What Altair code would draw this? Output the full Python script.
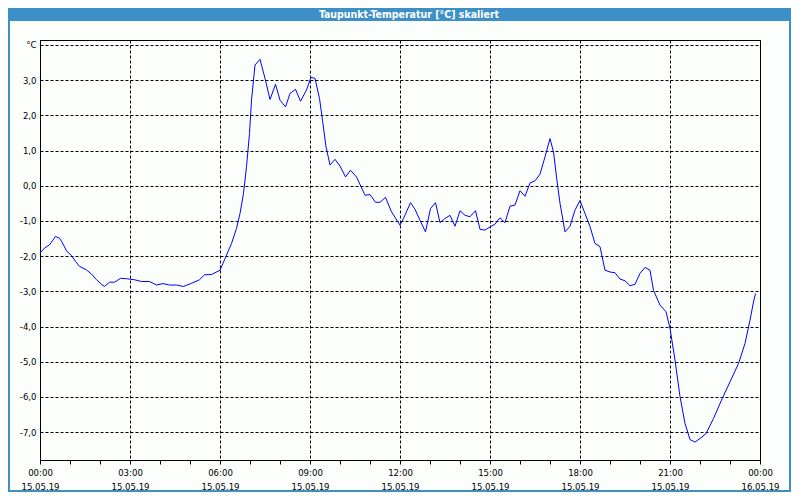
import json
import altair as alt
import pandas as pd

title_text = "Taupunkt-Temperatur [°C] skaliert"
unit_label = "°C"

# minutes after 15.05.19 00:00
minutes = [0, 9, 19, 31, 39, 44, 53, 63, 71, 79, 93, 103, 113, 123, 129, 139, 149, 161, 173, 189,
           203, 219, 233, 246, 259, 273, 287, 303, 319, 329, 343, 360, 370, 383, 393, 400, 407, 413,
           419, 423, 430, 440, 450, 460, 471, 480, 491, 500, 511, 521, 533, 542, 550, 559, 565, 572,
           580, 590, 600, 611, 621, 633, 650, 660, 671, 680, 691, 703, 720, 727, 741, 750, 760, 771,
           781, 791, 800, 810, 820, 830, 840, 850, 860, 871, 880, 890, 900, 910, 920, 930, 940, 950,
           960, 970, 980, 990, 1000, 1010, 1020, 1027, 1033, 1040, 1050, 1060, 1070, 1080, 1090,
           1100, 1110, 1120, 1130, 1140, 1150, 1160, 1170, 1180, 1190, 1200, 1210, 1220, 1227, 1240,
           1252, 1260, 1270, 1280, 1290, 1300, 1310, 1320, 1332, 1347, 1363, 1380, 1397, 1410, 1420,
           1427, 1431]
values = [-1.91, -1.77, -1.68, -1.44, -1.49, -1.60, -1.85, -1.98, -2.15, -2.29, -2.39, -2.51, -2.67,
          -2.80, -2.86, -2.74, -2.74, -2.63, -2.64, -2.67, -2.72, -2.72, -2.82, -2.78, -2.82, -2.82,
          -2.86, -2.77, -2.67, -2.53, -2.52, -2.40, -2.07, -1.64, -1.21, -0.79, -0.22, 0.54, 1.49,
          2.43, 3.43, 3.59, 3.05, 2.45, 2.88, 2.43, 2.24, 2.62, 2.74, 2.40, 2.72, 3.08, 3.05, 2.48,
          1.86, 1.11, 0.59, 0.75, 0.56, 0.25, 0.44, 0.25, -0.27, -0.25, -0.47, -0.47, -0.33, -0.74,
          -1.12, -0.93, -0.48, -0.67, -0.98, -1.31, -0.65, -0.48, -1.05, -0.93, -0.84, -1.15, -0.71,
          -0.84, -0.88, -0.71, -1.24, -1.26, -1.17, -1.09, -0.91, -1.05, -0.58, -0.55, -0.14, -0.30,
          0.08, 0.14, 0.33, 0.82, 1.34, 0.96, 0.25, -0.50, -1.31, -1.15, -0.69, -0.42, -0.79, -1.16,
          -1.64, -1.73, -2.40, -2.45, -2.47, -2.65, -2.70, -2.84, -2.80, -2.49, -2.32, -2.40, -2.97,
          -3.39, -3.58, -4.05, -4.95, -5.99, -6.75, -7.21, -7.28, -7.18, -7.04, -6.61, -6.09, -5.57,
          -5.05, -4.48, -3.82, -3.30, -3.06]

x_hours = list(range(0, 25))
time_labels = ["00:00", "03:00", "06:00", "09:00", "12:00", "15:00", "18:00", "21:00", "00:00"]
date_labels = ["15.05.19", "15.05.19", "15.05.19", "15.05.19", "15.05.19", "15.05.19",
               "15.05.19", "15.05.19", "16.05.19"]
y_ticks = list(range(-7, 5))

df = pd.DataFrame({"hour": [m / 60 for m in minutes], "value": values})
title_df = pd.DataFrame({"t": [title_text]})

FONT = "DejaVu Sans Condensed, DejaVu Sans, sans-serif"
BLUE = "#3d8fc7"

x_label_expr = (
    f"datum.value % 3 == 0 ? [{json.dumps(time_labels)}[datum.value / 3], "
    f"{json.dumps(date_labels)}[datum.value / 3]] : ''"
)
y_label_expr = (
    f"datum.value == 4 ? '{unit_label}' : (datum.value < 0 ? '-' : '') + "
    "replace(format(abs(datum.value), '.1f'), '.', ',')"
)

x_axis = alt.Axis(
    values=x_hours, labelExpr=x_label_expr, labelOverlap=False, labelFlush=False,
    tickSize=4, tickColor="black", domainColor="black", grid=True, gridColor="black",
    gridDash=[3, 2], gridOpacity={"condition": {"test": "datum.value % 3 == 0", "value": 1}, "value": 0},
    labelLineHeight=14, labelPadding=3, labelFont=FONT, labelFontSize=9.5, labelColor="black",
    title=None,
)
y_axis = alt.Axis(
    values=y_ticks, labelExpr=y_label_expr, ticks=False, labelPadding=4, grid=True,
    gridColor="black", gridDash=[3, 2], domainColor="black", labelFont=FONT,
    labelFontSize=9.5, labelColor="black", title=None,
)

line = alt.Chart(df).mark_line(color="#0000ff", strokeWidth=1).encode(
    x=alt.X("hour:Q", scale=alt.Scale(domain=[0, 24], nice=False, zero=False), axis=x_axis),
    y=alt.Y("value:Q", scale=alt.Scale(domain=[-7.79, 4.14], nice=False, zero=False), axis=y_axis),
)

frame = alt.Chart(title_df).mark_rect(fillOpacity=0, stroke=BLUE, strokeWidth=2).encode(
    x=alt.value(-31), x2=alt.value(750), y=alt.value(-31), y2=alt.value(451)
)
bar = alt.Chart(title_df).mark_rect(color=BLUE).encode(
    x=alt.value(-32), x2=alt.value(752), y=alt.value(-32), y2=alt.value(-19)
)
title = alt.Chart(title_df).mark_text(
    color="white", font=FONT, fontSize=10.5, fontWeight="bold", align="center", baseline="middle"
).encode(text="t:N", x=alt.value(369), y=alt.value(-25.5))

chart = alt.layer(frame, bar, line, title).properties(
    width=720, height=420,
    padding={"left": 32, "top": 32, "right": 31, "bottom": 32},
    autosize="none",
    background="#fcfefc",
).configure_view(stroke="black", strokeWidth=1)

chart.save("out.html", embed_options={"renderer": "svg", "actions": False})
